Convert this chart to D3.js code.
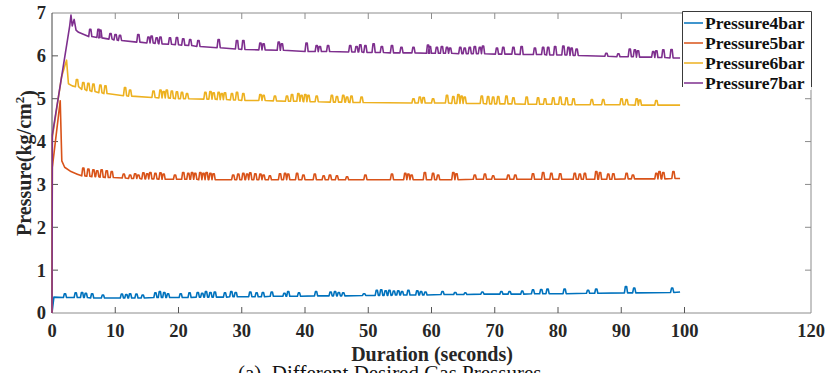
<!DOCTYPE html>
<html>
<head>
<meta charset="utf-8">
<script src="https://cdn.jsdelivr.net/npm/d3@7"></script>
<style>
  html, body { margin: 0; padding: 0; background: #fff; }
  svg { display: block; }
  text { font-family: "Liberation Serif", "Times New Roman", serif; }
</style>
</head>
<body>
<div id="chart"></div>
<script>
// ---- Data
const xTicks = [0, 10, 20, 30, 40, 50, 60, 70, 80, 90, 100, 120];
const yTicks = [0, 1, 2, 3, 4, 5, 6, 7];
const seriesNames = ['Pressure4bar', 'Pressure5bar', 'Pressure6bar', 'Pressure7bar'];
const seriesColors = ['#0072BD', '#D95319', '#EDB120', '#7E2F8E'];

// start-up transient of each run: [time (s), pressure]
const ramp4 = [[0, 0], [0.3, 0.37]];
const ramp5 = [[0, 0], [0.05, 3.4], [1.3, 4.95], [1.55, 3.55], [2, 3.4], [3, 3.3], [4, 3.24]];
const ramp6 = [[0, 0], [0.05, 4.1], [1.5, 5.5], [2.3, 5.9], [2.6, 5.35], [3.2, 5.3]];
const ramp7 = [[0, 0], [0.05, 4.15], [2.8, 6.7], [3.0, 6.95], [3.2, 6.7], [3.5, 6.85], [3.8, 6.6], [4.2, 6.55]];

// last sample of each run
const end4 = [99.3, 0.49];
const end5 = [99.3, 3.14];
const end6 = [99.3, 4.85];
const end7 = [99.3, 5.95];

// regulator spikes: [time (s), baseline, peak]
const spikes4 = [
  [2.0, 0.36, 0.45], [3.7, 0.36, 0.47], [4.7, 0.36, 0.48], [5.3, 0.36, 0.46], [6.3, 0.35, 0.45],
  [8.0, 0.35, 0.42], [11.0, 0.35, 0.44], [11.7, 0.35, 0.43], [12.3, 0.35, 0.45], [13.3, 0.35, 0.44],
  [14.3, 0.35, 0.42], [16.3, 0.36, 0.47], [17.0, 0.36, 0.5], [17.7, 0.36, 0.48], [18.3, 0.36, 0.45],
  [20.3, 0.36, 0.45], [21.7, 0.36, 0.47], [23.0, 0.37, 0.48], [23.7, 0.37, 0.46], [24.3, 0.37, 0.5],
  [25.0, 0.37, 0.48], [25.7, 0.37, 0.49], [27.3, 0.37, 0.47], [28.3, 0.38, 0.5], [29.0, 0.38, 0.48],
  [31.3, 0.38, 0.49], [32.3, 0.38, 0.47], [33.3, 0.38, 0.48], [34.7, 0.39, 0.49], [36.7, 0.39, 0.46],
  [37.3, 0.39, 0.5], [39.0, 0.39, 0.47], [41.7, 0.4, 0.5], [44.0, 0.4, 0.49], [44.7, 0.4, 0.5],
  [45.3, 0.4, 0.48], [46.0, 0.4, 0.47], [49.3, 0.41, 0.45], [51.3, 0.41, 0.53], [52.0, 0.41, 0.54],
  [52.7, 0.41, 0.52], [53.3, 0.41, 0.53], [54.0, 0.42, 0.51], [54.7, 0.42, 0.52], [55.3, 0.42, 0.5],
  [56.3, 0.42, 0.53], [57.7, 0.42, 0.52], [58.3, 0.42, 0.5], [59.0, 0.42, 0.49], [61.7, 0.43, 0.5],
  [63.7, 0.43, 0.48], [65.3, 0.43, 0.47], [68.0, 0.44, 0.49], [71.0, 0.44, 0.5], [72.3, 0.44, 0.5],
  [74.3, 0.44, 0.51], [76.0, 0.45, 0.54], [77.3, 0.45, 0.55], [78.3, 0.45, 0.56], [81.0, 0.45, 0.56],
  [84.7, 0.46, 0.53], [86.0, 0.46, 0.56], [90.7, 0.47, 0.62], [92.0, 0.47, 0.58], [98.0, 0.48, 0.58]
];
const spikes5 = [
  [4.9, 3.2, 3.38], [5.7, 3.19, 3.36], [6.5, 3.18, 3.34], [7.1, 3.18, 3.32], [7.8, 3.17, 3.34],
  [8.6, 3.16, 3.32], [9.4, 3.16, 3.3], [11.3, 3.15, 3.24], [12.3, 3.14, 3.22], [13.1, 3.14, 3.25],
  [13.6, 3.14, 3.22], [14.4, 3.13, 3.27], [15.0, 3.13, 3.25], [15.5, 3.13, 3.28], [16.3, 3.13, 3.26],
  [17.1, 3.12, 3.27], [17.6, 3.12, 3.24], [19.4, 3.12, 3.22], [20.7, 3.12, 3.28], [21.5, 3.12, 3.26],
  [22.1, 3.12, 3.28], [22.6, 3.12, 3.26], [23.4, 3.11, 3.28], [23.9, 3.11, 3.26], [24.4, 3.11, 3.28],
  [25.0, 3.11, 3.26], [25.5, 3.11, 3.25], [28.6, 3.11, 3.22], [29.4, 3.11, 3.24], [30.2, 3.11, 3.26],
  [30.8, 3.11, 3.24], [31.3, 3.11, 3.27], [32.1, 3.11, 3.25], [32.9, 3.11, 3.24], [33.4, 3.11, 3.22],
  [34.4, 3.11, 3.2], [36.0, 3.11, 3.25], [36.8, 3.11, 3.26], [37.3, 3.11, 3.24], [38.7, 3.11, 3.26],
  [39.7, 3.11, 3.22], [41.5, 3.11, 3.24], [42.9, 3.11, 3.2], [43.9, 3.11, 3.22], [45.0, 3.11, 3.2],
  [46.6, 3.11, 3.18], [49.5, 3.11, 3.22], [53.7, 3.11, 3.24], [55.8, 3.11, 3.26], [56.3, 3.11, 3.24],
  [56.8, 3.11, 3.22], [58.9, 3.11, 3.28], [60.2, 3.11, 3.26], [61.0, 3.11, 3.22], [63.4, 3.11, 3.28],
  [63.9, 3.11, 3.25], [66.8, 3.12, 3.22], [68.4, 3.12, 3.24], [69.7, 3.12, 3.2], [72.1, 3.12, 3.22],
  [73.2, 3.12, 3.22], [76.0, 3.12, 3.25], [77.6, 3.12, 3.28], [78.9, 3.12, 3.26], [80.3, 3.12, 3.25],
  [82.6, 3.12, 3.26], [83.4, 3.12, 3.24], [84.2, 3.12, 3.26], [86.0, 3.12, 3.3], [86.6, 3.12, 3.28],
  [87.9, 3.12, 3.24], [88.7, 3.12, 3.25], [90.8, 3.13, 3.26], [91.8, 3.13, 3.22], [95.5, 3.13, 3.26],
  [96.0, 3.13, 3.3], [96.6, 3.13, 3.28], [98.2, 3.14, 3.3]
];
const spikes6 = [
  [3.9, 5.28, 5.45], [4.9, 5.22, 5.38], [5.7, 5.19, 5.36], [6.5, 5.17, 5.34], [7.6, 5.14, 5.32],
  [8.4, 5.12, 5.3], [11.5, 5.07, 5.26], [12.3, 5.06, 5.2], [16.0, 5.03, 5.18], [17.1, 5.02, 5.2],
  [17.6, 5.02, 5.17], [18.1, 5.02, 5.2], [18.9, 5.01, 5.18], [19.7, 5.0, 5.16], [20.5, 5.0, 5.15],
  [21.3, 5.0, 5.12], [24.2, 4.99, 5.15], [25.0, 4.99, 5.17], [25.5, 4.99, 5.14], [26.3, 4.98, 5.15],
  [26.8, 4.98, 5.12], [27.3, 4.98, 5.14], [28.4, 4.97, 5.12], [29.2, 4.97, 5.15], [30.2, 4.96, 5.12],
  [32.9, 4.96, 5.1], [33.4, 4.96, 5.08], [35.2, 4.95, 5.06], [37.1, 4.94, 5.06], [37.9, 4.94, 5.1],
  [38.9, 4.94, 5.12], [39.4, 4.94, 5.08], [40.0, 4.93, 5.1], [40.5, 4.93, 5.08], [41.8, 4.93, 5.06],
  [44.2, 4.92, 5.08], [45.0, 4.92, 5.05], [46.0, 4.92, 5.08], [46.6, 4.92, 5.04], [47.3, 4.91, 5.06],
  [48.9, 4.91, 5.04], [57.1, 4.9, 5.0], [58.1, 4.9, 5.04], [58.7, 4.9, 5.03], [60.2, 4.9, 5.0],
  [62.4, 4.9, 5.08], [63.4, 4.89, 5.05], [64.2, 4.89, 5.1], [64.7, 4.89, 5.06], [65.2, 4.89, 5.04],
  [67.9, 4.89, 5.06], [68.9, 4.88, 5.05], [69.7, 4.88, 5.04], [70.5, 4.88, 5.05], [71.8, 4.88, 5.06],
  [72.9, 4.88, 5.02], [75.0, 4.87, 5.04], [76.8, 4.87, 5.02], [77.9, 4.87, 5.0], [79.2, 4.87, 5.02],
  [80.3, 4.87, 5.04], [81.3, 4.86, 5.02], [82.4, 4.86, 5.0], [85.3, 4.86, 4.98], [87.1, 4.86, 4.98],
  [90.0, 4.86, 5.0], [90.8, 4.86, 4.98], [92.4, 4.85, 5.0], [92.9, 4.85, 4.97], [95.5, 4.85, 4.96]
];
const spikes7 = [
  [6.0, 6.45, 6.62], [7.3, 6.43, 6.62], [7.6, 6.42, 6.6], [9.2, 6.39, 6.52], [10.0, 6.37, 6.5],
  [10.7, 6.36, 6.48], [13.6, 6.32, 6.5], [15.2, 6.3, 6.44], [15.7, 6.3, 6.46], [16.5, 6.29, 6.42],
  [17.1, 6.28, 6.44], [18.6, 6.27, 6.42], [19.7, 6.26, 6.43], [20.7, 6.25, 6.4], [21.8, 6.24, 6.38],
  [23.1, 6.22, 6.36], [26.3, 6.19, 6.38], [29.2, 6.16, 6.36], [30.2, 6.15, 6.36], [32.9, 6.14, 6.3],
  [33.4, 6.14, 6.28], [35.8, 6.13, 6.32], [36.3, 6.13, 6.28], [40.2, 6.1, 6.3], [41.8, 6.1, 6.24],
  [42.3, 6.1, 6.22], [43.6, 6.1, 6.24], [47.1, 6.09, 6.24], [48.1, 6.09, 6.22], [48.7, 6.09, 6.26],
  [49.5, 6.08, 6.24], [50.8, 6.08, 6.28], [52.1, 6.08, 6.22], [53.7, 6.07, 6.24], [55.2, 6.07, 6.2],
  [57.1, 6.07, 6.2], [59.4, 6.06, 6.25], [59.7, 6.06, 6.22], [60.8, 6.06, 6.2], [61.6, 6.06, 6.22],
  [62.4, 6.06, 6.2], [62.9, 6.06, 6.18], [64.5, 6.05, 6.2], [65.2, 6.05, 6.18], [66.0, 6.05, 6.2],
  [66.8, 6.05, 6.22], [67.6, 6.05, 6.2], [68.1, 6.05, 6.23], [70.3, 6.04, 6.18], [71.3, 6.04, 6.2],
  [72.9, 6.04, 6.2], [74.2, 6.03, 6.22], [76.3, 6.03, 6.18], [77.6, 6.03, 6.2], [78.4, 6.02, 6.2],
  [79.5, 6.02, 6.22], [80.8, 6.02, 6.23], [81.6, 6.02, 6.2], [82.1, 6.01, 6.18], [82.9, 6.01, 6.16],
  [87.6, 5.99, 6.06], [89.5, 5.98, 6.05], [91.3, 5.98, 6.16], [92.1, 5.98, 6.14], [92.6, 5.97, 6.12],
  [95.0, 5.97, 6.1], [95.5, 5.96, 6.12], [96.6, 5.96, 6.14], [97.9, 5.95, 6.15]
];

const ramps = [ramp4, ramp5, ramp6, ramp7];
const ends = [end4, end5, end6, end7];
const spikes = [spikes4, spikes5, spikes6, spikes7];

// ---- Layout
const width = 831;
const height = 373;
const margin = { left: 52, right: 20, top: 13, bottom: 60 };
const plotW = width - margin.left - margin.right;
const plotH = height - margin.top - margin.bottom;

const svg = d3.select('#chart')
  .append('svg')
  .attr('width', width)
  .attr('height', height);

const x = d3.scaleLinear().domain([0, 120]).range([margin.left, margin.left + plotW]);
const y = d3.scaleLinear().domain([0, 7]).range([margin.top + plotH, margin.top]);

// ---- Expand each spike into a narrow flat-topped peak on its baseline
function seriesPoints(i) {
  const pts = ramps[i].slice();
  spikes[i].forEach(([t, base, peak]) => {
    pts.push([t - 0.2, base], [t - 0.05, peak], [t + 0.15, peak], [t + 0.3, base]);
  });
  pts.push(ends[i]);
  return pts;
}

const line = d3.line().x(d => x(d[0])).y(d => y(d[1]));

// ---- Axes box
const boxColor = '#8c8c8c';
const tickColor = '#555';
const x0 = x(0), x1 = x(120), y0 = y(0), y1 = y(7);

svg.append('g')
  .attr('class', 'box')
  .selectAll('line')
  .data([
    [x0, y1, x1, y1], // top
    [x1, y1, x1, y0], // right
    [x0, y0, x1, y0], // bottom
    [x0, y1, x0, y0]  // left
  ])
  .join('line')
  .attr('x1', d => d[0]).attr('y1', d => d[1])
  .attr('x2', d => d[2]).attr('y2', d => d[3])
  .attr('stroke', (d, i) => i === 3 ? '#444' : boxColor)
  .attr('stroke-width', 1);

// ---- Ticks (inside, mirrored on top and right)
const tickLen = 6;
const tickG = svg.append('g').attr('class', 'ticks');

tickG.selectAll('.xtick')
  .data(xTicks.filter(d => d > 0 && d < 120))
  .join('line')
  .attr('class', 'xtick')
  .attr('x1', d => x(d)).attr('x2', d => x(d))
  .attr('y1', y0).attr('y2', y0 - tickLen)
  .attr('stroke', tickColor);

tickG.selectAll('.xtickTop')
  .data(xTicks.filter(d => d > 0 && d < 120))
  .join('line')
  .attr('class', 'xtickTop')
  .attr('x1', d => x(d)).attr('x2', d => x(d))
  .attr('y1', y1).attr('y2', y1 + tickLen)
  .attr('stroke', boxColor);

tickG.selectAll('.ytick')
  .data(yTicks.filter(d => d > 0 && d < 7))
  .join('line')
  .attr('class', 'ytick')
  .attr('x1', x0).attr('x2', x0 + tickLen)
  .attr('y1', d => y(d)).attr('y2', d => y(d))
  .attr('stroke', tickColor);

tickG.selectAll('.ytickRight')
  .data(yTicks.filter(d => d > 0 && d < 7))
  .join('line')
  .attr('class', 'ytickRight')
  .attr('x1', x1).attr('x2', x1 - tickLen)
  .attr('y1', d => y(d)).attr('y2', d => y(d))
  .attr('stroke', boxColor);

// ---- Tick labels
svg.append('g')
  .selectAll('text')
  .data(xTicks)
  .join('text')
  .attr('x', d => x(d))
  .attr('y', y0 + 24)
  .attr('text-anchor', 'middle')
  .style('font-size', '18.5px')
  .style('font-weight', 'bold')
  .style('fill', '#262626')
  .text(d => d);

svg.append('g')
  .selectAll('text')
  .data(yTicks)
  .join('text')
  .attr('x', x0 - 6)
  .attr('y', d => y(d))
  .attr('dy', '0.35em')
  .attr('text-anchor', 'end')
  .style('font-size', '18.5px')
  .style('font-weight', 'bold')
  .style('fill', '#262626')
  .text(d => d);

// ---- Axis titles
svg.append('text')
  .attr('x', 432)
  .attr('y', 361)
  .attr('text-anchor', 'middle')
  .style('font-size', '20px')
  .style('font-weight', 'bold')
  .style('fill', '#262626')
  .text('Duration (seconds)');

const yTitle = svg.append('text')
  .attr('transform', `translate(31, ${(y0 + y1) / 2}) rotate(-90)`)
  .attr('text-anchor', 'middle')
  .style('font-size', '20px')
  .style('font-weight', 'bold')
  .style('fill', '#262626');
yTitle.append('tspan').text('Pressure(kg/cm');
yTitle.append('tspan').attr('dy', '-0.55em').style('font-size', '13px').text('2');
yTitle.append('tspan').attr('dy', '0.55em').text(')');

// ---- Series lines (drawn in legend order, last on top)
svg.append('g')
  .attr('class', 'series')
  .selectAll('path')
  .data(seriesNames.map((name, i) => seriesPoints(i)))
  .join('path')
  .attr('d', d => line(d))
  .attr('fill', 'none')
  .attr('stroke', (d, i) => seriesColors[i])
  .attr('stroke-width', 1.6)
  .attr('stroke-linejoin', 'round');

// ---- Legend
const legend = svg.append('g').attr('class', 'legend');
const lgLeft = 682.5, lgRight = 811.5, lgTop = 11.5, lgBottom = 90;

legend.append('rect')
  .attr('x', lgLeft).attr('y', lgTop)
  .attr('width', lgRight - lgLeft).attr('height', lgBottom - lgTop)
  .attr('fill', '#fff');

legend.append('path')
  .attr('d', `M${lgLeft},${lgBottom - 3}V${lgTop}H${lgRight}V${lgBottom - 3}`)
  .attr('fill', 'none')
  .attr('stroke', '#3a3a3a')
  .attr('stroke-width', 1);

const rows = legend.selectAll('.row')
  .data(seriesNames)
  .join('g')
  .attr('class', 'row')
  .attr('transform', (d, i) => `translate(0, ${23 + i * 20})`);

rows.append('line')
  .attr('x1', 684).attr('x2', 703)
  .attr('stroke', (d, i) => seriesColors[i])
  .attr('stroke-width', 1.5);

rows.append('text')
  .attr('x', 705)
  .attr('dy', '0.35em')
  .style('font-size', '17.5px')
  .style('font-weight', 'bold')
  .style('fill', '#111')
  .text(d => d);

// ---- Caption (cut off by the page edge, as in the source figure)
svg.append('text')
  .attr('x', 238)
  .attr('y', 380)
  .attr('xml:space', 'preserve')
  .style('font-size', '21px')
  .style('fill', '#111')
  .text('(a)  Different Desired Gas Pressures');
</script>
</body>
</html>
